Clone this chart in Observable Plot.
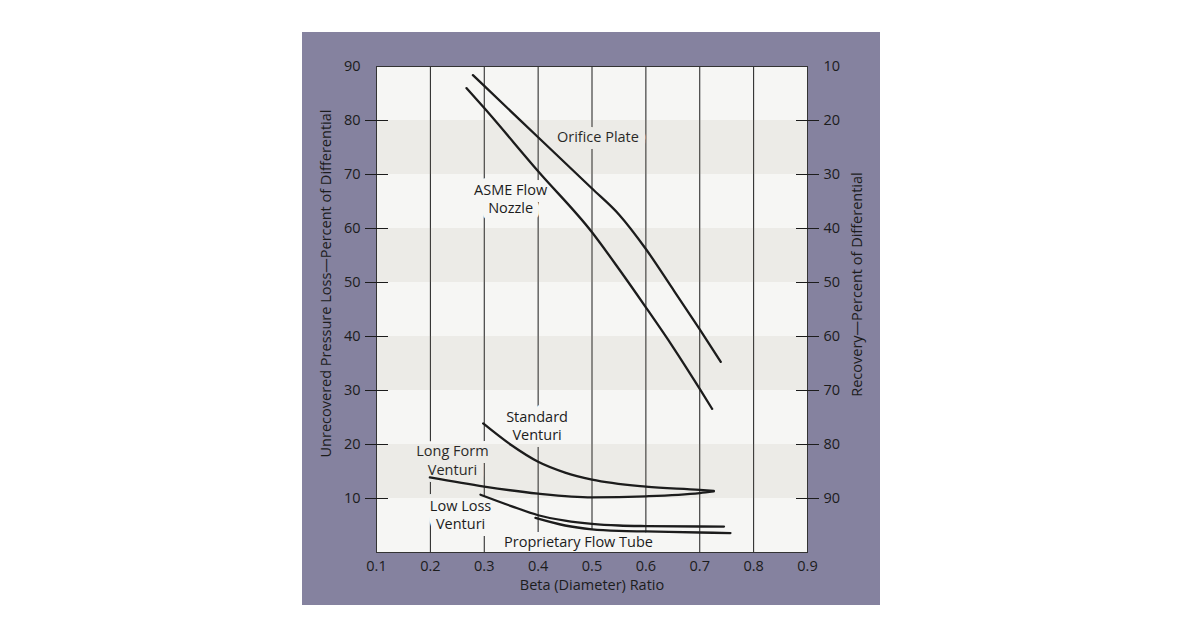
<!DOCTYPE html>
<html><head><meta charset="utf-8">
<script src="https://cdn.jsdelivr.net/npm/d3@7"></script>
<script src="https://cdn.jsdelivr.net/npm/@observablehq/plot@0.6"></script>
<style>
body{margin:0;background:#fff;}
#chart{position:absolute;left:302px;top:32px;}
</style>
</head><body><div id="chart"></div>
<script>
// Axis values
const betaTicks = [0.1, 0.2, 0.3, 0.4, 0.5, 0.6, 0.7, 0.8, 0.9];
const gridBetas = [0.2, 0.3, 0.4, 0.5, 0.6, 0.7, 0.8];
const lossTicks = [10, 20, 30, 40, 50, 60, 70, 80];
const lossLabels = [10, 20, 30, 40, 50, 60, 70, 80, 90];
const bandLow = [10, 30, 50, 70];
const bandHigh = [20, 40, 60, 80];

// Series (beta ratio vs unrecovered pressure loss %)
const orificeBeta = [0.279, 0.3, 0.4, 0.5, 0.55, 0.6, 0.65, 0.7, 0.739];
const orificeLoss = [88.4, 86.4, 76.9, 67.4, 62.6, 56.2, 48.8, 41.3, 35.3];
const asmeBeta = [0.267, 0.3, 0.4, 0.5, 0.55, 0.6, 0.65, 0.7, 0.723];
const asmeLoss = [86.0, 82.3, 70.6, 59.3, 52.5, 45.4, 38.1, 30.3, 26.6];
const stdBeta = [0.298, 0.35, 0.4, 0.45, 0.5, 0.6, 0.7, 0.726];
const stdLoss = [23.9, 19.9, 16.8, 14.8, 13.5, 12.2, 11.6, 11.4];
const longBeta = [0.199, 0.3, 0.4, 0.5, 0.6, 0.7, 0.726];
const longLoss = [13.9, 12.2, 10.9, 10.2, 10.4, 11.0, 11.3];
const lowBeta = [0.293, 0.35, 0.4, 0.45, 0.5, 0.55, 0.6, 0.745];
const lowLoss = [10.7, 8.6, 6.9, 5.9, 5.3, 5.0, 4.9, 4.8];
const propBeta = [0.395, 0.45, 0.5, 0.55, 0.6, 0.7, 0.757];
const propLoss = [6.4, 5.0, 4.3, 4.0, 3.9, 3.7, 3.6];

// Curve labels
const labelText = ["Orifice Plate", "ASME Flow\nNozzle", "Standard\nVenturi", "Long Form\nVenturi", "Low Loss\nVenturi", "Proprietary Flow Tube"];
const labelBeta = [0.511, 0.349, 0.398, 0.241, 0.256, 0.475];
const labelLoss = [77.2, 65.6, 23.6, 17.2, 7.1, 2.2];

const BG = "#85829f", PLOT_BG = "#f6f6f4", INK = "#1c1c1c";
const BAND_TINT = "rgb(146,136,114)";
const FS = 14.5;

const series = [
  [orificeBeta, orificeLoss], [asmeBeta, asmeLoss], [stdBeta, stdLoss],
  [longBeta, longLoss], [lowBeta, lowLoss], [propBeta, propLoss]
];
const bands = bandLow.map((lo, i) => ({lo, hi: bandHigh[i]}));
const labels = labelText.map((t, i) => ({t, b: labelBeta[i], v: labelLoss[i]}));

const marks = [
  Plot.frame({fill: PLOT_BG}),
  Plot.ruleX(gridBetas, {stroke: INK, strokeWidth: 1}),
  Plot.text(labels, {x: "b", y: "v", text: "t", lineHeight: 1.27, fill: INK, fontSize: FS, clip: "frame",
    stroke: PLOT_BG, strokeWidth: 14, strokeLinejoin: "round", paintOrder: "stroke"}),
  Plot.rect(bands, {y1: "lo", y2: "hi", fill: BAND_TINT, fillOpacity: 0.1}),
  ...series.map(([bs, vs]) => Plot.line(bs.map((b, i) => ({b, v: vs[i]})),
    {x: "b", y: "v", stroke: INK, strokeWidth: 2.3, curve: "monotone-x"})),
  Plot.frame({stroke: "#333", strokeWidth: 1}),
  Plot.axisY(lossTicks, {anchor: "left", tickSize: 23, dx: 12, stroke: INK, tickFormat: () => "", label: null}),
  Plot.axisY(lossLabels, {anchor: "left", tickSize: 0, tickPadding: 16, fill: INK, fontSize: FS, label: null}),
  Plot.axisY(lossTicks, {anchor: "right", tickSize: 23, dx: -12, stroke: INK, tickFormat: () => "", label: null}),
  Plot.axisY(lossLabels, {anchor: "right", tickSize: 0, tickPadding: 16, fill: INK, fontSize: FS, label: null, tickFormat: d => String(100 - d)}),
  Plot.axisX(betaTicks, {anchor: "bottom", tickSize: 0, tickPadding: 8, fill: INK, fontSize: FS, label: null, tickFormat: d => d.toFixed(1)}),
  Plot.text(["Unrecovered Pressure Loss\u2014Percent of Differential"], {text: d => d, frameAnchor: "left", textAnchor: "middle", lineAnchor: "middle", rotate: -90, dx: -50, dy: -26, fill: INK, fontSize: FS}),
  Plot.text(["Recovery\u2014Percent of Differential"], {text: d => d, frameAnchor: "right", textAnchor: "middle", lineAnchor: "middle", rotate: -90, dx: 50, dy: -25, fill: INK, fontSize: FS}),
  Plot.text(["Beta (Diameter) Ratio"], {text: d => d, frameAnchor: "bottom", lineAnchor: "middle", dy: 33, fill: INK, fontSize: FS})
];

const chart = Plot.plot({
  width: 578, height: 573,
  marginLeft: 74, marginRight: 73, marginTop: 34, marginBottom: 53,
  style: {background: BG, fontFamily: "'Open Sans', sans-serif", fontSize: FS + "px", color: INK, overflow: "visible"},
  x: {domain: [0.1, 0.9], axis: null},
  y: {domain: [0, 90], axis: null},
  marks
});
document.getElementById("chart").appendChild(chart);
</script>
</body></html>
